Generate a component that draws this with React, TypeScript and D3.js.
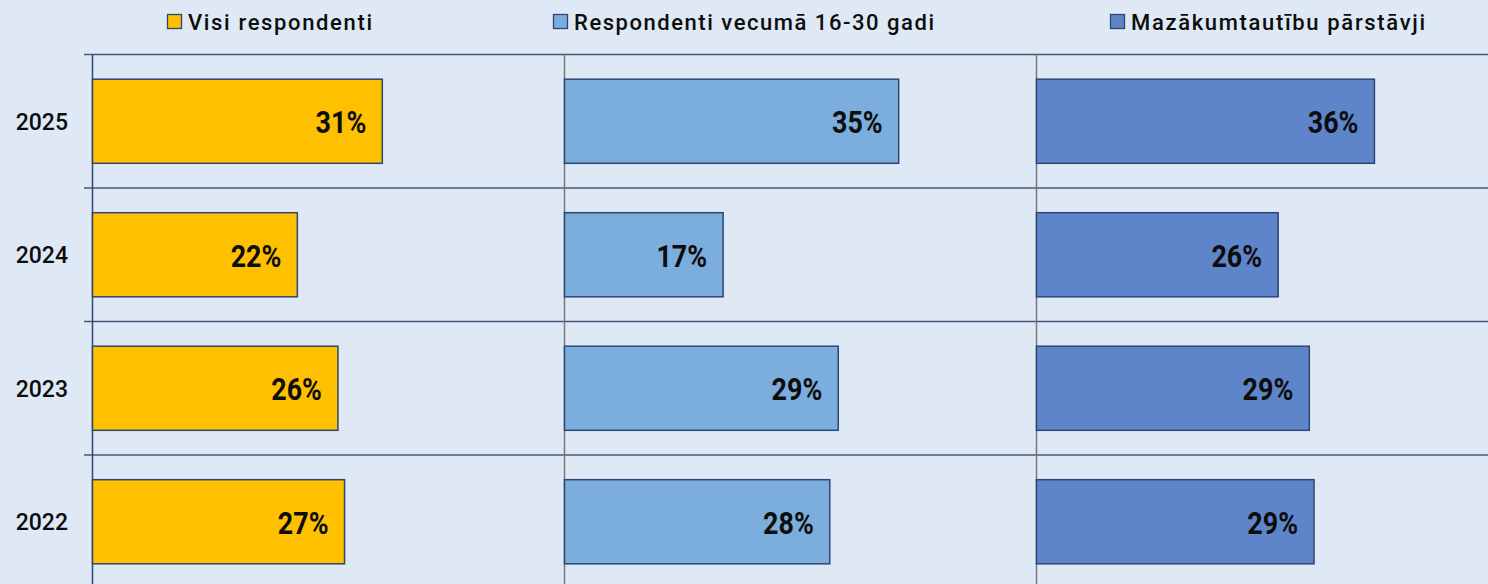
import React from "react";
import * as d3 from "d3";

// ---- data ----
const years = ["2025", "2024", "2023", "2022"];
const seriesNames = [
  "Visi respondenti",
  "Respondenti vecumā 16-30 gadi",
  "Mazākumtautību pārstāvji",
];
const allRespondents = [0.307, 0.217, 0.26, 0.267];
const youth = [0.354, 0.168, 0.29, 0.281];
const minorities = [0.358, 0.256, 0.289, 0.294];
const seriesColors = ["#FFC000", "#7BADDD", "#5E84CA"];

// ---- layout ----
const W = 1488;
const H = 584;
const plotTop = 54.5;
const rowStep = 133.5;
const plotLeft = 92.5;
const panelWidth = 472;
const gridLeft = 84;
const legendX = [167, 553, 1110];
const legendTextLen = [184, 360, 294];

export default function App() {
  const series = [allRespondents, youth, minorities];

  const y = d3
    .scaleBand<string>()
    .domain(years)
    .range([plotTop, plotTop + rowStep * years.length])
    .paddingInner(0.37)
    .paddingOuter(0.185);

  const xScales = series.map((_, i) =>
    d3
      .scaleLinear()
      .domain([0, 0.5])
      .range([plotLeft + i * panelWidth, plotLeft + (i + 1) * panelWidth])
  );

  const fmt = d3.format(".0%");
  const gridYs = d3.range(years.length + 1).map((i) => plotTop + i * rowStep);

  return (
    <svg
      width={W}
      height={H}
      style={{ position: "absolute", left: 0, top: 0, display: "block" }}
      fontFamily="Roboto, 'DejaVu Sans', sans-serif"
    >
      <rect x={0} y={0} width={W} height={H} fill="#DEE9F5" />

      {/* legend */}
      {seriesNames.map((name, i) => (
        <g key={name}>
          <rect
            x={legendX[i] + 0.5}
            y={14.5}
            width={14}
            height={14}
            fill={seriesColors[i]}
            stroke="#2E4672"
            strokeWidth={1.3}
          />
          <text
            x={legendX[i] + 21}
            y={30}
            fontSize={22}
            fontWeight={500}
            fill="#0d0d0d"
            textLength={legendTextLen[i]}
            lengthAdjust="spacing"
          >
            {name}
          </text>
        </g>
      ))}

      {/* horizontal grid lines */}
      {gridYs.map((gy, i) => (
        <line
          key={i}
          x1={gridLeft}
          x2={W}
          y1={gy}
          y2={gy}
          stroke="#44587C"
          strokeWidth={1.3}
        />
      ))}

      {/* panel base lines */}
      {xScales.map((xs, i) => (
        <line
          key={i}
          x1={xs(0)}
          x2={xs(0)}
          y1={plotTop}
          y2={H}
          stroke={i === 0 ? "#2E4672" : "#777777"}
          strokeWidth={1.5}
        />
      ))}

      {/* year labels */}
      {years.map((yr) => (
        <text
          key={yr}
          x={68}
          y={(y(yr) as number) + y.bandwidth() / 2 + 8.5}
          textAnchor="end"
          fontSize={23}
          fontWeight={500}
          fill="#0d0d0d"
        >
          {yr}
        </text>
      ))}

      {/* bars */}
      {series.map((vals, si) => (
        <g key={si}>
          {vals.map((v, yi) => {
            const xs = xScales[si];
            const by = y(years[yi]) as number;
            return (
              <g key={yi}>
                <rect
                  x={xs(0)}
                  y={by}
                  width={xs(v) - xs(0)}
                  height={y.bandwidth()}
                  fill={seriesColors[si]}
                  stroke="#2E4672"
                  strokeWidth={1.5}
                />
                <text
                  transform={`translate(${xs(v) - 16},${by + y.bandwidth() / 2 + 12}) scale(0.84,1)`}
                  textAnchor="end"
                  fontSize={32}
                  fontWeight={700}
                  fill="#0d0d0d"
                >
                  {fmt(v)}
                </text>
              </g>
            );
          })}
        </g>
      ))}
    </svg>
  );
}
